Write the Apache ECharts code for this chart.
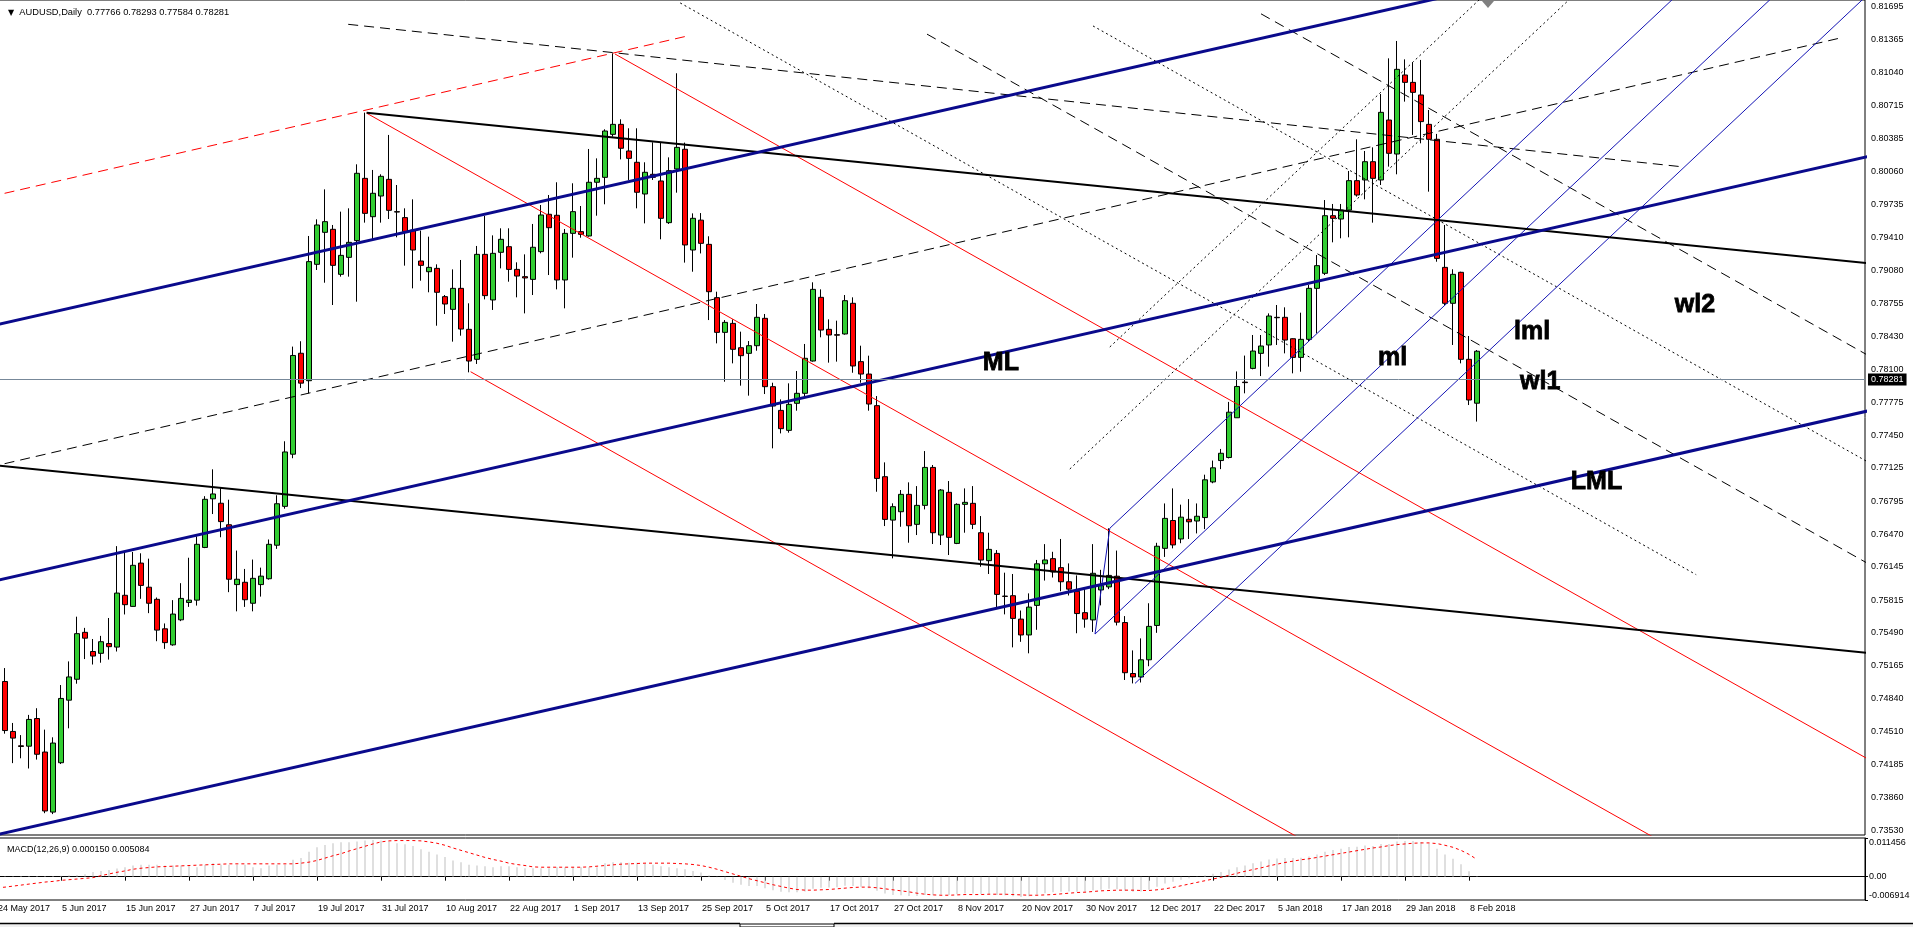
<!DOCTYPE html>
<html><head><meta charset="utf-8">
<script src="https://cdn.jsdelivr.net/npm/echarts@6/dist/echarts.min.js"></script>
<style>html,body{margin:0;padding:0;background:#fff;overflow:hidden}#c{width:1913px;height:927px}</style>
</head><body><div id="c"></div><script>
// ---------- categories (trading days) ----------
const monthDays = [
 ['May 2017','24 25 26 29 30 31'],
 ['Jun 2017','1 2 5 6 7 8 9 12 13 14 15 16 19 20 21 22 23 26 27 28 29 30'],
 ['Jul 2017','3 4 5 6 7 10 11 12 13 14 17 18 19 20 21 24 25 26 27 28 31'],
 ['Aug 2017','1 2 3 4 7 8 9 10 11 14 15 16 17 18 21 22 23 24 25 28 29 30 31'],
 ['Sep 2017','1 4 5 6 7 8 11 12 13 14 15 18 19 20 21 22 25 26 27 28 29'],
 ['Oct 2017','2 3 4 5 6 9 10 11 12 13 16 17 18 19 20 23 24 25 26 27 30 31'],
 ['Nov 2017','1 2 3 6 7 8 9 10 13 14 15 16 17 20 21 22 23 24 27 28 29 30'],
 ['Dec 2017','1 4 5 6 7 8 11 12 13 14 15 18 19 20 21 22 26 27 28 29'],
 ['Jan 2018','2 3 4 5 8 9 10 11 12 15 16 17 18 19 22 23 24 25 26 29 30 31'],
 ['Feb 2018','1 2 5 6 7 8 9']
];
const dates = [];
monthDays.forEach(m => m[1].split(' ').forEach(d => dates.push(d + ' ' + m[0])));
const futureSlots = 48;

// ---------- daily candles [open, high, low, close] ----------
const ohlc = [
[0.7477,0.7512,0.7470,0.7503],
[0.75009,0.75142,0.74492,0.74523],[0.74514,0.74598,0.74200,0.74448],[0.74372,0.74478,0.74248,0.74365],
[0.74368,0.74678,0.74147,0.74633],[0.74642,0.74744,0.74235,0.74288],[0.74310,0.74532,0.73704,0.73726],
[0.73715,0.74456,0.73695,0.74399],[0.74204,0.74974,0.74191,0.74841],[0.74824,0.75208,0.74545,0.75054],
[0.75031,0.75651,0.74987,0.75483],[0.75496,0.75540,0.75231,0.75438],[0.75306,0.75430,0.75177,0.75261],
[0.75288,0.75461,0.75195,0.75403],[0.75385,0.75638,0.75226,0.75354],[0.75350,0.76350,0.75306,0.75885],
[0.75863,0.76292,0.75673,0.75770],[0.75753,0.76292,0.75750,0.76160],[0.76182,0.76279,0.75828,0.75961],
[0.75943,0.76226,0.75686,0.75784],[0.75823,0.75841,0.75408,0.75518],[0.75531,0.75584,0.75332,0.75394],
[0.75372,0.75815,0.75363,0.75677],[0.75620,0.75983,0.75607,0.75832],[0.75792,0.76235,0.75748,0.75815],
[0.75815,0.76447,0.75761,0.76368],[0.76337,0.76845,0.76330,0.76814],[0.76819,0.77111,0.76668,0.76867],
[0.76775,0.76934,0.76438,0.76593],[0.76562,0.76810,0.75894,0.76022],[0.75969,0.76306,0.75704,0.76022],
[0.75992,0.76124,0.75748,0.75819],[0.75784,0.76217,0.75704,0.76031],[0.75969,0.76137,0.75850,0.76053],
[0.76027,0.76416,0.76018,0.76368],[0.76359,0.76854,0.76323,0.76770],[0.76744,0.77389,0.76721,0.77283],
[0.77261,0.78327,0.77221,0.78239],[0.78261,0.78380,0.77916,0.77965],[0.77989,0.79423,0.77864,0.79169],
[0.79142,0.79588,0.79086,0.79532],[0.79459,0.79885,0.78960,0.79565],[0.79489,0.79532,0.78739,0.79132],
[0.79043,0.79664,0.79020,0.79231],[0.79211,0.79697,0.79020,0.79360],[0.79377,0.80133,0.78772,0.80044],
[0.79994,0.80645,0.79555,0.79647],[0.79614,0.80077,0.79383,0.79846],[0.79819,0.80034,0.79555,0.80014],
[0.79984,0.80424,0.79591,0.79677],[0.79664,0.79928,0.79410,0.79660],[0.79605,0.79697,0.79129,0.79466],
[0.79482,0.79786,0.78904,0.79284],[0.79175,0.79476,0.78980,0.79132],[0.79069,0.79416,0.78865,0.79112],
[0.79102,0.79142,0.78534,0.78865],[0.78822,0.78838,0.78650,0.78749],[0.78696,0.79092,0.78376,0.78904],
[0.78904,0.79185,0.78435,0.78501],[0.78498,0.78756,0.78072,0.78184],[0.78201,0.79324,0.78155,0.79241],
[0.79241,0.79621,0.78795,0.78832],[0.78789,0.79429,0.78690,0.79251],[0.79261,0.79499,0.79102,0.79390],
[0.79317,0.79499,0.78970,0.79092],[0.79092,0.79162,0.78815,0.79026],[0.79020,0.79241,0.78656,0.79007],
[0.78993,0.79542,0.78838,0.79311],[0.79268,0.79730,0.79251,0.79631],[0.79638,0.79829,0.79036,0.79505],
[0.79628,0.79955,0.78894,0.78987],[0.78987,0.79492,0.78706,0.79449],[0.79449,0.79945,0.79208,0.79664],
[0.79466,0.79720,0.79406,0.79439],[0.79423,0.80285,0.79416,0.79955],[0.79955,0.80192,0.79624,0.79994],
[0.80004,0.80480,0.79737,0.80463],[0.80430,0.81233,0.80407,0.80529],[0.80529,0.80579,0.80182,0.80292],
[0.80265,0.80490,0.79978,0.80192],[0.80153,0.80490,0.79697,0.79856],[0.79839,0.80153,0.79548,0.80054],
[0.80034,0.80351,0.79978,0.80004],[0.79968,0.80351,0.79390,0.79598],[0.79555,0.80202,0.79542,0.80070],
[0.80087,0.81035,0.79852,0.80301],[0.80282,0.80348,0.79159,0.79334],[0.79284,0.79647,0.79069,0.79598],
[0.79580,0.79650,0.79250,0.79350],[0.79340,0.79420,0.78590,0.78871],[0.78812,0.78871,0.78359,0.78468],
[0.78468,0.78590,0.77979,0.78567],[0.78557,0.78597,0.78161,0.78300],[0.78316,0.78475,0.77940,0.78237],
[0.78260,0.78382,0.77841,0.78336],[0.78336,0.78749,0.78286,0.78617],[0.78607,0.78650,0.77857,0.77930],
[0.77930,0.77969,0.77319,0.77738],[0.77695,0.77804,0.77467,0.77514],[0.77497,0.77963,0.77474,0.77755],
[0.77765,0.78085,0.77692,0.77864],[0.77864,0.78353,0.77831,0.78211],[0.78184,0.78964,0.78178,0.78894],
[0.78815,0.78894,0.78419,0.78491],[0.78498,0.78597,0.78168,0.78442],[0.78445,0.78584,0.78178,0.78440],
[0.78452,0.78838,0.78445,0.78782],[0.78756,0.78815,0.78068,0.78135],[0.78178,0.78336,0.77969,0.78055],
[0.78055,0.78237,0.77692,0.77758],[0.77742,0.77837,0.76889,0.77021],[0.77038,0.77180,0.76549,0.76615],
[0.76608,0.76774,0.76229,0.76741],[0.76691,0.76906,0.76542,0.76863],[0.76863,0.76982,0.76384,0.76552],
[0.76566,0.76945,0.76460,0.76754],[0.76754,0.77292,0.76714,0.77130],[0.77130,0.77154,0.76371,0.76483],
[0.76460,0.76916,0.76361,0.76906],[0.76883,0.76995,0.76262,0.76437],[0.76377,0.76774,0.76370,0.76764],
[0.76764,0.76922,0.76483,0.76784],[0.76774,0.76945,0.76519,0.76566],[0.76483,0.76648,0.76146,0.76212],
[0.76206,0.76483,0.76074,0.76318],[0.76278,0.76311,0.75743,0.75872],[0.75855,0.76087,0.75674,0.75852],
[0.75859,0.76074,0.75347,0.75634],[0.75627,0.75712,0.75402,0.75470],[0.75470,0.75882,0.75288,0.75746],
[0.75763,0.76213,0.75521,0.76175],[0.76175,0.76370,0.76009,0.76213],[0.76226,0.76294,0.76039,0.76094],
[0.76137,0.76421,0.75903,0.75997],[0.75997,0.76179,0.75861,0.75924],[0.75903,0.76060,0.75487,0.75682],
[0.75691,0.75924,0.75542,0.75627],[0.75619,0.76370,0.75500,0.76081],[0.75916,0.76115,0.75763,0.75958],
[0.75946,0.76527,0.75924,0.76060],[0.76052,0.76306,0.75564,0.75597],[0.75593,0.75657,0.75024,0.75096],
[0.75088,0.75317,0.74990,0.75054],[0.75054,0.75436,0.74999,0.75224],[0.75224,0.75784,0.75160,0.75555],
[0.75564,0.76383,0.75491,0.76349],[0.76328,0.76773,0.76243,0.76625],[0.76604,0.76922,0.76328,0.76362],
[0.76421,0.76761,0.76379,0.76637],[0.76616,0.76816,0.76421,0.76591],[0.76599,0.76773,0.76476,0.76646],
[0.76633,0.77058,0.76519,0.77007],[0.76986,0.77198,0.76973,0.77126],[0.77198,0.77313,0.77113,0.77270],
[0.77228,0.77779,0.77219,0.77677],[0.77622,0.78081,0.77622,0.77932],[0.77975,0.78238,0.77864,0.77970],
[0.78111,0.78442,0.78102,0.78283],[0.78260,0.78442,0.78035,0.78333],[0.78343,0.78656,0.78128,0.78630],
[0.78617,0.78739,0.78343,0.78613],[0.78617,0.78716,0.78260,0.78392],[0.78405,0.78409,0.78062,0.78220],
[0.78220,0.78663,0.78078,0.78399],[0.78399,0.78937,0.78376,0.78904],[0.78904,0.79234,0.78458,0.79129],
[0.79053,0.79779,0.79036,0.79624],[0.79624,0.79740,0.79360,0.79598],[0.79591,0.79740,0.79400,0.79680],
[0.79680,0.80067,0.79410,0.79971],[0.79971,0.80381,0.79813,0.79829],[0.79978,0.80265,0.79786,0.80159],
[0.80159,0.80301,0.79555,0.79994],[0.79978,0.80830,0.79928,0.80648],[0.80572,0.81183,0.80110,0.80242],
[0.80235,0.81355,0.80034,0.81074],[0.81018,0.81173,0.80754,0.80945],[0.80945,0.81144,0.80424,0.80846],
[0.80820,0.81167,0.80341,0.80556],[0.80529,0.80671,0.79862,0.80381],[0.80381,0.80434,0.79168,0.79201],
[0.79112,0.79532,0.78739,0.78756],[0.78756,0.79093,0.78343,0.79043],[0.79063,0.79069,0.78161,0.78201],
[0.78201,0.78432,0.77748,0.77798],[0.77766,0.78293,0.77584,0.78281]
];

// ---------- MACD(12,26,9): main (histogram) and signal ----------
const macdMain = [0.0001,
0.0001,0.0001,0.0002,0.0002,0.0002,0.0002,0.0002,0.0003,0.0004,
0.0005,0.0007,0.0014,0.0017,0.0020,0.0024,0.0028,0.0033,
0.0035,0.0035,0.0035,0.0033,0.0033,0.0033,0.0033,0.0028,0.0035,0.0040,0.0035,0.0035,0.0035,0.0035,0.0028,0.0025,0.0033,0.0035,0.0035,
0.0050,0.0055,0.0074,0.0087,0.0094,0.0099,0.0102,0.0102,0.0104,0.0107,0.0109,0.0107,0.0104,0.0099,0.0096,0.0091,0.0081,0.0074,0.0066,0.0058,
0.0048,0.0043,0.0035,0.0033,0.0031,0.0028,0.0031,0.0031,0.0028,0.0025,0.0025,0.0025,0.0025,0.0028,0.0028,0.0028,0.0028,0.0028,0.0028,0.0040,
0.0043,0.0043,0.0041,0.0041,0.0038,0.0035,0.0031,0.0028,0.0025,0.0022,0.0017,0.0012,
0.0004,-0.0002,-0.0010,-0.0018,-0.0024,-0.0028,-0.0028,-0.0034,-0.0040,-0.0045,
-0.0046,-0.0046,-0.0044,-0.0036,-0.0033,-0.0032,-0.0031,-0.0027,-0.0028,-0.0030,
-0.0034,-0.0042,-0.0050,-0.0054,-0.0055,-0.0057,-0.0057,-0.0054,-0.0055,-0.0053,
-0.0054,-0.0052,-0.0050,-0.0050,-0.0052,-0.0051,-0.0054,-0.0055,-0.0058,-0.0060,
-0.0058,-0.0053,-0.0049,-0.0046,-0.0045,-0.0044,-0.0045,-0.0045,-0.0041,-0.0039,
-0.0036,-0.0037,-0.0042,-0.0045,-0.0044,-0.0039,-0.0030,-0.0020,-0.0015,-0.0009,
-0.0005,-0.0001,0.0004,0.0009,0.0014,0.0021,0.0028,0.0033,0.0040,0.0045,
0.0051,0.0054,0.0055,0.0055,0.0056,0.0060,0.0066,0.0074,0.0079,0.0083,
0.0088,0.0089,0.0092,0.0091,0.0097,0.0097,0.0104,0.0106,0.0106,0.0103,
0.0098,0.0083,0.0066,0.0053,0.0037,0.0016,0.00015];
const macdSignal = [-0.0033,
-0.0031,-0.0028,-0.0025,-0.0022,-0.0019,-0.0016,-0.0014,-0.0011,-0.0009,-0.0007,-0.0005,-0.0003,
0.0003,0.0008,0.0013,0.0017,0.0022,0.0025,0.0027,0.0029,0.0030,0.0031,0.0032,0.0033,0.0034,0.0035,0.0036,0.0037,0.0038,
0.0038,0.0038,0.0038,0.0038,0.0038,0.0038,0.0038,0.0038,
0.0040,0.0043,0.0048,0.0055,0.0062,0.0068,0.0076,0.0083,0.0090,0.0097,0.0103,0.0106,0.0107,0.0107,0.0107,0.0106,0.0103,0.0099,0.0093,0.0085,0.0078,0.0071,0.0064,0.0057,0.0051,0.0046,0.0040,0.0036,0.0033,0.0029,
0.0028,0.0028,0.0028,0.0028,0.0028,0.0028,0.0029,0.0031,0.0033,0.0035,0.0037,0.0038,0.0039,0.0040,0.0040,0.0040,0.0040,0.0039,0.0038,0.0036,0.0033,
0.0028,0.0022,0.0015,0.0008,0.0001,-0.0006,-0.0012,-0.0018,-0.0024,-0.0029,
-0.0034,-0.0038,-0.0040,-0.0040,-0.0039,-0.0038,-0.0036,-0.0034,-0.0032,-0.0031,
-0.0031,-0.0033,-0.0036,-0.0039,-0.0042,-0.0045,-0.0049,-0.0052,-0.0054,-0.0055,
-0.0055,-0.0054,-0.0053,-0.0053,-0.0053,-0.0052,-0.0052,-0.0052,-0.0053,-0.0054,
-0.0055,-0.0055,-0.0054,-0.0053,-0.0051,-0.0049,-0.0047,-0.0046,-0.0044,-0.0042,
-0.0041,-0.0040,-0.0040,-0.0040,-0.0041,-0.0041,-0.0039,-0.0036,-0.0032,-0.0027,
-0.0022,-0.0017,-0.0012,-0.0007,-0.0002,0.0004,0.0010,0.0016,0.0021,0.0026,
0.0032,0.0037,0.0042,0.0046,0.0050,0.0053,0.0057,0.0061,0.0065,0.0069,
0.0073,0.0077,0.0081,0.0085,0.0088,0.0092,0.0095,0.0097,0.0099,0.0100,
0.0100,0.0098,0.0093,0.0087,0.0078,0.0066,0.0051];

// ---------- axis tick labels ----------
const priceTicks = [0.81695,0.81365,0.81040,0.80715,0.80385,0.80060,0.79735,0.79410,0.79080,0.78755,0.78430,0.78100,0.77775,
 0.77450,0.77125,0.76795,0.76470,0.76145,0.75815,0.75490,0.75165,0.74840,0.74510,0.74185,0.73860,0.73530];
const macdTickValues = [0.011456, 0, -0.006914];
const macdTickLabels = ['0.011456', '0.00', '-0.006914'];
const lastPrice = 0.78281;
const titleText = 'AUDUSD,Daily  0.77766 0.78293 0.77584 0.78281';
const macdText = 'MACD(12,26,9) 0.000150 0.005084';

// ---------- drawn objects: [barIndex0, price0, barIndex1, price1] ----------
const blueForkLines = [[-1,0.78526,235,0.82763],[-1,0.75993,235,0.80230],[-1,0.73473,235,0.77710]];
const blackThickLines = [[46.2,0.80645,235,0.79144],[-1,0.77158,235,0.75282]];
const redSolidLines = [[46.2,0.80640,235,0.72220],[77.25,0.81226,235,0.74190],[59.2,0.78078,235,0.70237]];
const redDashedLines = [[-1,0.79810,86.5,0.81408]];
const blackDashedLines = [[-1,0.77131,230.6,0.81388],[43.9,0.81520,210.8,0.80107],[116.25,0.81423,235,0.76127],[158,0.81624,235,0.78190]];
const blackDottedLines = [[85.4,0.81732,212.4,0.76067],[137,0.81504,235,0.77133],[134.1,0.77114,235,0.84631],[139.1,0.78323,235,0.85468]];
const thinBlueLines = [[139.1,0.76527,235,0.83672],[137.25,0.75479,235,0.82761],[142.25,0.74990,235,0.81900],[139.1,0.76527,137.25,0.75479]];
const annotations = [['ML',123.1,0.7816],['ml',172.5,0.78214],['lml',189.5,0.78471],['wl1',190.25,0.77975],['wl2',209.6,0.78740],['LML',196.6,0.76984]];

// ---------- build chart ----------
const FONT = '"Liberation Sans", Arial, sans-serif';
const cats = dates.concat(new Array(futureSlots).fill(''));
const N = cats.length;
const candleData = ohlc.map(r => [r[0], r[3], r[2], r[1]]);

function objLines(arr, color, width, type, z) {
  return arr.map(l => ({
    type: 'line', xAxisIndex: 1, yAxisIndex: 0,
    data: [[l[0], l[1]], [l[2], l[3]]],
    symbol: 'none', silent: true, clip: true, z: z,
    lineStyle: { color: color, width: width, type: type }
  }));
}
const showTick = (idx) => idx < dates.length && idx % 8 === 0;

const chart = echarts.init(document.getElementById('c'), null, { renderer: 'canvas' });
const option = {
  animation: false,
  backgroundColor: '#ffffff',
  title: [
    { text: '{t|▼}  ' + titleText, left: 3, top: 3,
      textStyle: { fontSize: 9.3, fontWeight: 'normal', color: '#000', fontFamily: FONT,
        rich: { t: { fontSize: 8, color: '#000', fontFamily: 'DejaVu Sans' } } } },
    { text: macdText, left: 2, top: 840,
      textStyle: { fontSize: 9, fontWeight: 'normal', color: '#000', fontFamily: FONT } }
  ],
  grid: [
    { left: -7, top: 0, width: 1872, height: 835, show: true, borderColor: '#000', borderWidth: 1,
      backgroundColor: '#fff', containLabel: false, outerBoundsMode: 'none' },
    { left: -7, top: 838, width: 1872, height: 62, show: true, borderColor: '#000', borderWidth: 1,
      backgroundColor: '#fff', containLabel: false, outerBoundsMode: 'none' }
  ],
  xAxis: [
    { type: 'category', gridIndex: 0, data: cats, boundaryGap: true,
      axisLine: { show: false }, axisTick: { show: false }, axisLabel: { show: false }, splitLine: { show: false } },
    { type: 'value', gridIndex: 0, min: -0.5, max: N - 0.5, show: false, splitLine: { show: false } },
    { type: 'category', gridIndex: 1, data: cats, boundaryGap: true,
      axisLine: { show: true, lineStyle: { color: '#000', width: 1 } },
      axisTick: { show: true, alignWithLabel: true, interval: showTick, length: 4, lineStyle: { color: '#000' } },
      axisLabel: { show: true, interval: showTick, align: 'left', margin: 4, padding: [0, 0, 0, 1],
        color: '#000', fontSize: 9, fontFamily: FONT },
      splitLine: { show: false } }
  ],
  yAxis: [
    { type: 'value', gridIndex: 0, position: 'right', min: 0.73488, max: 0.81761,
      splitLine: { show: false },
      axisLine: { show: true, lineStyle: { color: '#000' } },
      axisTick: { show: true, customValues: priceTicks, length: 3, lineStyle: { color: '#000' } },
      axisLabel: { show: true, customValues: priceTicks, margin: 6, color: '#000', fontSize: 9, fontFamily: FONT,
        formatter: v => v.toFixed(5) } },
    { type: 'value', gridIndex: 1, position: 'right', min: -0.006914, max: 0.011456,
      splitLine: { show: false },
      axisLine: { show: true, lineStyle: { color: '#000' } },
      axisTick: { show: true, customValues: macdTickValues, length: 3, lineStyle: { color: '#000' } },
      axisLabel: { show: true, customValues: macdTickValues, margin: 4, color: '#000', fontSize: 9, fontFamily: FONT,
        formatter: v => {
          let k = 0, best = 1e9;
          macdTickValues.forEach((t, j) => { const d = Math.abs(t - v); if (d < best) { best = d; k = j; } });
          return k === 0 ? '{a|' + macdTickLabels[k] + '}' : (k === 2 ? '{b|' + macdTickLabels[k] + '}' : macdTickLabels[k]);
        },
        rich: { a: { padding: [10, 0, 0, 0], fontSize: 9, color: '#000', fontFamily: FONT },
                b: { padding: [0, 0, 9, 0], fontSize: 9, color: '#000', fontFamily: FONT } } } }
  ],
  series: [].concat(
    [{
      type: 'candlestick', xAxisIndex: 0, yAxisIndex: 0, data: candleData, barWidth: 5, z: 2,
      itemStyle: { color: '#32cd32', color0: '#ff0000', borderColor: '#000', borderColor0: '#000', borderWidth: 1 },
      markLine: {
        silent: true, symbol: 'none', animation: false,
        data: [{ yAxis: lastPrice }],
        lineStyle: { color: '#778899', type: 'solid', width: 1 },
        label: { show: true, position: 'end', distance: 3, formatter: lastPrice.toFixed(5),
          backgroundColor: '#000', color: '#fff', padding: [2, 3, 1, 3], fontSize: 9, fontFamily: FONT }
      }
    }],
    objLines(redSolidLines, '#ff0000', 1, 'solid', 3),
    objLines(redDashedLines, '#ff0000', 1, [10, 6], 3),
    objLines(blackDottedLines, '#000000', 1, [2, 3], 3),
    objLines(blackDashedLines, '#000000', 1, [10, 6], 3),
    objLines(thinBlueLines, '#1414b4', 1, 'solid', 3),
    objLines(blackThickLines, '#000000', 2, 'solid', 4),
    objLines(blueForkLines, '#0a0a8c', 3, 'solid', 4),
    [{
      type: 'scatter', xAxisIndex: 1, yAxisIndex: 0, symbol: 'circle', symbolSize: 2, silent: true, z: 10,
      itemStyle: { color: 'rgba(255,255,255,0)' },
      data: annotations.map(a => ({ value: [a[1], a[2]], name: a[0] })),
      label: { show: true, position: 'right', distance: 0, formatter: '{b}', opacity: 1,
        color: '#000000', textBorderColor: '#000000', textBorderWidth: 0.8,
        fontSize: 25, fontWeight: 'bold', fontFamily: FONT }
    },
    { type: 'bar', xAxisIndex: 2, yAxisIndex: 1, data: macdMain, barWidth: 1, silent: true,
      itemStyle: { color: '#c0c0c0' } },
    { type: 'line', xAxisIndex: 2, yAxisIndex: 1, data: macdSignal, symbol: 'none', silent: true,
      lineStyle: { color: '#ff0000', width: 1, type: [3, 3] } }]
  ),
  graphic: [
    { type: 'polygon', shape: { points: [[1482, 1], [1494, 1], [1488, 8]] }, style: { fill: '#808080' }, z: 100 },
    { type: 'rect', shape: { x: 0, y: 924, width: 1913, height: 3 }, style: { fill: '#f0f0f0' }, z: 100 },
    { type: 'line', shape: { x1: 0, y1: 923.5, x2: 740, y2: 923.5 }, style: { stroke: '#000', lineWidth: 1.5 }, z: 101 },
    { type: 'line', shape: { x1: 834, y1: 923.5, x2: 1913, y2: 923.5 }, style: { stroke: '#000', lineWidth: 1.5 }, z: 101 },
    { type: 'rect', shape: { x: 740, y: 924, width: 94, height: 3 }, style: { fill: '#fff', stroke: '#000', lineWidth: 1 }, z: 101 }
  ]
};
chart.setOption(option);
</script></body></html>
